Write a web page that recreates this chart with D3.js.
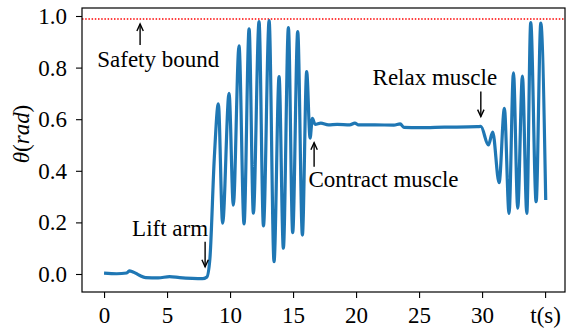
<!DOCTYPE html>
<html>
<head>
<meta charset="utf-8">
<script src="https://cdn.jsdelivr.net/npm/d3@7"></script>
<style>
  html, body { margin: 0; padding: 0; background: #fff; }
  svg { display: block; }
  text { font-family: "Liberation Serif", "Times New Roman", serif; fill: #000; }
</style>
</head>
<body>
<svg id="chart" width="567" height="328"></svg>
<script>
// ---- data ----
const timeS = [0, 1.0, 1.8, 2.0, 2.3, 2.8, 3.3, 4.3, 5.2, 6.0, 7.0, 7.8, 8.15, 8.4, 8.75,
  9.07, 9.41, 9.92, 10.26, 10.71, 11.11, 11.51, 11.85, 12.3, 12.65, 13.1, 13.49, 13.89, 14.23,
  14.63, 14.97, 15.37, 15.74, 16.08, 16.35, 16.53, 16.75, 17.2, 17.8, 18.5, 19.5, 19.9, 20.2,
  21.5, 23.0, 23.5, 23.8, 25.0, 27.0, 29.6, 29.9, 30.5, 30.84, 31.35, 31.77, 32.14, 32.49,
  32.83, 33.2, 33.55, 33.86, 34.29, 34.66, 35.05];
const thetaRad = [0.003, 0.001, 0.004, 0.012, 0.008, -0.005, -0.014, -0.015, -0.010, -0.014, -0.017, -0.018, -0.012, 0.06, 0.45,
  0.659, 0.197, 0.700, 0.267, 0.884, 0.194, 0.950, 0.236, 0.978, 0.186, 0.982, 0.048, 0.765, 0.100,
  0.955, 0.160, 0.940, 0.151, 0.784, 0.527, 0.603, 0.580, 0.585, 0.578, 0.580, 0.578, 0.585, 0.578,
  0.578, 0.577, 0.582, 0.568, 0.567, 0.569, 0.571, 0.572, 0.500, 0.550, 0.354, 0.642, 0.235, 0.780,
  0.255, 0.767, 0.235, 0.974, 0.280, 0.972, 0.287];
const safetyBound = 0.988;
const xTicks = [0, 5, 10, 15, 20, 25, 30, 35];
const xTickLabels = ["0", "5", "10", "15", "20", "25", "30", "t(s)"];
const yTicks = [0.0, 0.2, 0.4, 0.6, 0.8, 1.0];
const yTickLabels = ["0.0", "0.2", "0.4", "0.6", "0.8", "1.0"];
const annoText = ["Safety bound", "Lift arm", "Contract muscle", "Relax muscle"];
const annoTipT = [2.86, 8.02, 16.67, 29.9];
const annoTipV = [0.969, 0.028, 0.509, 0.610];
const annoTailV = [0.888, 0.125, 0.416, 0.707];
const annoTextT = [4.3, 5.24, 22.18, 26.25];
const annoTextV = [0.802, 0.147, 0.338, 0.733];

// ---- layout ----
const svg = d3.select("#chart");
const L = 82, R = 565, T = 8, B = 292;
const x = d3.scaleLinear().domain([-1.75, 36.58]).range([L, R]);
const y = d3.scaleLinear().domain([-0.0698, 1.031]).range([B, T]);
const fs = 23;

const series = timeS.map((t, i) => ({ t, v: thetaRad[i] }));

// clip
svg.append("defs").append("clipPath").attr("id", "clip")
  .append("rect").attr("x", L).attr("y", T).attr("width", R - L).attr("height", B - T);

// safety line
svg.append("line")
  .attr("x1", L).attr("x2", R)
  .attr("y1", y(safetyBound)).attr("y2", y(safetyBound))
  .attr("stroke", "#ff0000").attr("stroke-width", 1.5)
  .attr("stroke-dasharray", "1.5,1.7");

// data line
const line = d3.line().x(d => x(d.t)).y(d => y(d.v)).curve(d3.curveMonotoneX);
svg.append("path").datum(series)
  .attr("clip-path", "url(#clip)")
  .attr("d", line)
  .attr("fill", "none")
  .attr("stroke", "#1f77b4")
  .attr("stroke-width", 3.2)
  .attr("stroke-linejoin", "round")
  .attr("stroke-linecap", "butt");

// axes
const xAxis = d3.axisBottom(x).tickValues(xTicks).tickSize(6).tickPadding(8)
  .tickFormat((d, i) => xTickLabels[i]);
const gx = svg.append("g").attr("transform", `translate(0,${B})`).call(xAxis);
const yAxis = d3.axisLeft(y).tickValues(yTicks).tickSize(6).tickPadding(9)
  .tickFormat((d, i) => yTickLabels[i]);
const gy = svg.append("g").attr("transform", `translate(${L},0)`).call(yAxis);
[gx, gy].forEach(g => {
  g.select(".domain").remove();
  g.selectAll(".tick line").attr("stroke", "#000").attr("stroke-width", 1.1);
  g.selectAll(".tick text").attr("font-size", fs)
    .attr("font-family", "Liberation Serif, serif").attr("fill", "#000");
});
gy.selectAll(".tick text").attr("dy", "0.33em");
gx.selectAll(".tick text").attr("dy", "0.72em");

// frame
svg.append("rect").attr("x", L).attr("y", T).attr("width", R - L).attr("height", B - T)
  .attr("fill", "none").attr("stroke", "#000").attr("stroke-width", 1.2);

// y label
const yl = svg.append("text")
  .attr("transform", `translate(29,134) rotate(-90)`)
  .attr("text-anchor", "middle").attr("font-size", fs);
yl.append("tspan").attr("font-style", "italic").text("θ");
yl.append("tspan").text("(");
yl.append("tspan").attr("font-style", "italic").text("rad");
yl.append("tspan").text(")");

// annotations
annoText.forEach((txt, i) => {
  svg.append("text")
    .attr("x", x(annoTextT[i])).attr("y", y(annoTextV[i]))
    .attr("text-anchor", "middle").attr("font-size", fs).text(txt);
  const ax = x(annoTipT[i]);
  const ty = y(annoTipV[i]);
  const by = y(annoTailV[i]);
  const dir = Math.sign(by - ty);
  svg.append("line").attr("x1", ax).attr("x2", ax).attr("y1", by).attr("y2", ty)
    .attr("stroke", "#000").attr("stroke-width", 1.4);
  const hw = 3.2, hl = 7;
  svg.append("path")
    .attr("d", `M${ax - hw},${ty + dir * hl} L${ax},${ty} L${ax + hw},${ty + dir * hl}`)
    .attr("fill", "none").attr("stroke", "#000").attr("stroke-width", 1.4);
});
</script>
</body>
</html>
